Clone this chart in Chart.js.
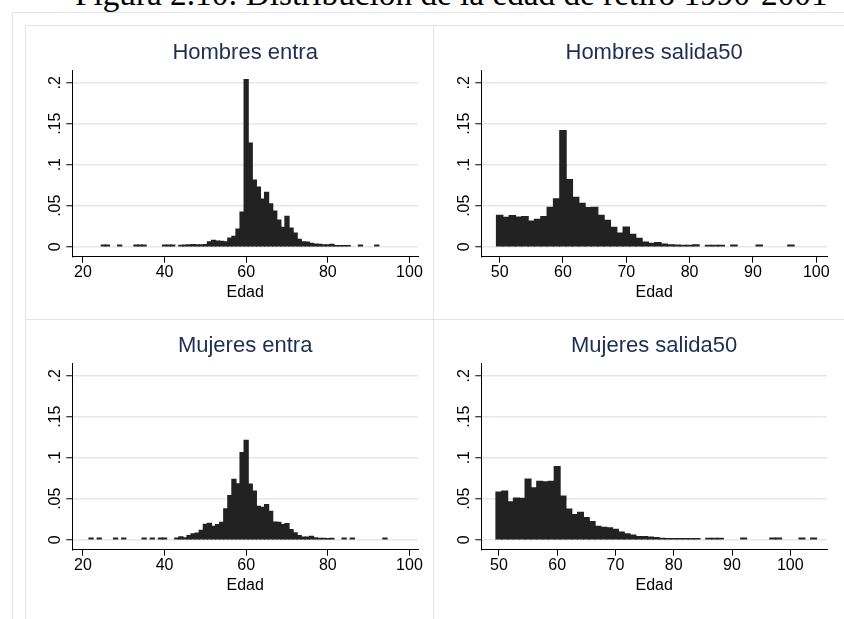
<!DOCTYPE html>
<html><head><meta charset="utf-8">
<script src="https://cdn.jsdelivr.net/npm/chart.js@4.4.1/dist/chart.umd.min.js"></script>
<style>
html,body{margin:0;padding:0;background:#fff;width:844px;height:619px;overflow:hidden;position:relative}
.ln{position:absolute;background:#dfe4ee}
canvas{position:absolute}
#fig{position:absolute;left:75px;top:-18px;white-space:nowrap;font-family:'Liberation Serif',serif;color:#000}
</style></head><body>
<div id="fig">Figura 2.10: Distribución de la edad de retiro 1990-2001</div>
<div class="ln" style="left:12px;top:12px;width:832px;height:1px"></div>
<div class="ln" style="left:12px;top:12px;width:1px;height:607px"></div>
<div class="ln" style="left:25px;top:25px;width:819px;height:1px"></div>
<div class="ln" style="left:25px;top:25px;width:1px;height:594px"></div>
<div class="ln" style="left:433px;top:25px;width:1px;height:594px"></div>
<div class="ln" style="left:25px;top:319px;width:819px;height:1px"></div>
<script>
// ---- data ----
const figTitle = 'Figura 2.10: Distribución de la edad de retiro 1990-2001';
const panelTitles = ['Hombres entra', 'Hombres salida50', 'Mujeres entra', 'Mujeres salida50'];
const xAxisTitle = 'Edad';
const yTicks = [0, 0.05, 0.1, 0.15, 0.2];
const yTickLabels = ['0', '.05', '.1', '.15', '.2'];
const xTicksEntra = [20, 40, 60, 80, 100];
const xTicksSalida = [50, 60, 70, 80, 90, 100];

const hombresEntraEdad = [25,26,27,28,29,30,31,32,33,34,35,36,37,38,39,40,41,42,43,44,45,46,47,48,49,50,51,52,53,54,55,56,57,58,59,60,61,62,63,64,65,66,67,68,69,70,71,72,73,74,75,76,77,78,79,80,81,82,83,84,85,86,87,88,89,90,91,92];
const hombresEntraDens = [0.0018,0.0018,0,0,0.0018,0,0,0,0.0018,0.0018,0.0018,0,0,0,0,0.0018,0.0018,0.0018,0,0.0015,0.0018,0.0022,0.0026,0.0024,0.0022,0.0025,0.006,0.0077,0.0068,0.0066,0.006,0.0106,0.0126,0.0215,0.0423,0.2037,0.1264,0.0813,0.0728,0.0581,0.0662,0.0524,0.0435,0.0325,0.0236,0.037,0.0228,0.0167,0.0089,0.006,0.0055,0.004,0.0033,0.003,0.0024,0.0024,0.0028,0.0014,0.0012,0.0014,0.0012,0,0,0.0018,0,0,0,0.0018];

const hombresSalidaEdad = [50,51,52,53,54,55,56,57,58,59,60,61,62,63,64,65,66,67,68,69,70,71,72,73,74,75,76,77,78,79,80,81,82,83,84,85,86,87,88,89,90,91,92,93,94,95,96];
const hombresSalidaDens = [0.0382,0.0358,0.0378,0.0362,0.0366,0.0313,0.0333,0.0366,0.048,0.0585,0.1415,0.0817,0.0602,0.0528,0.0476,0.048,0.0382,0.0321,0.0236,0.0167,0.024,0.015,0.0102,0.0057,0.0041,0.0049,0.0033,0.0024,0.0018,0.0016,0.0016,0.0024,0,0.0015,0.0015,0.0015,0,0.0018,0,0,0,0.0018,0,0,0,0,0.0018];

const mujeresEntraEdad = [22,23,24,25,26,27,28,29,30,31,32,33,34,35,36,37,38,39,40,41,42,43,44,45,46,47,48,49,50,51,52,53,54,55,56,57,58,59,60,61,62,63,64,65,66,67,68,69,70,71,72,73,74,75,76,77,78,79,80,81,82,83,84,85,86,87,88,89,90,91,92,93,94];
const mujeresEntraDens = [0.0018,0,0.0018,0,0,0,0.0018,0,0.0018,0,0,0,0,0.0018,0,0.0018,0,0.0018,0.002,0,0,0.0018,0.0035,0.0022,0.005,0.007,0.008,0.0114,0.0188,0.02,0.0163,0.0184,0.0212,0.0376,0.0539,0.0735,0.0682,0.1061,0.1212,0.0678,0.0592,0.0408,0.0396,0.0429,0.0347,0.0216,0.0212,0.0184,0.0196,0.0122,0.0082,0.0049,0.0033,0.0033,0.004,0.0024,0.0016,0.0016,0.0014,0.0016,0,0,0.0018,0,0.0018,0,0,0,0,0,0,0,0.0018];

const mujeresSalidaEdad = [50,51,52,53,54,55,56,57,58,59,60,61,62,63,64,65,66,67,68,69,70,71,72,73,74,75,76,77,78,79,80,81,82,83,84,85,86,87,88,89,90,91,92,93,94,95,96,97,98,99,100,101,102,103,104];
const mujeresSalidaDens = [0.0582,0.0594,0.0463,0.0508,0.0504,0.0738,0.0631,0.0713,0.0705,0.0713,0.0893,0.0533,0.0373,0.0307,0.0332,0.027,0.0221,0.0164,0.0152,0.0143,0.0127,0.0094,0.007,0.0057,0.0037,0.0037,0.0033,0.0025,0.0016,0.0014,0.0014,0.0012,0.0012,0.0012,0.0012,0,0.0015,0.0015,0.0015,0,0,0,0.0018,0,0,0,0,0.0018,0.0018,0,0,0,0.0018,0,0.0018];

// ---- page title ----
const fig = document.getElementById('fig');
(function(){
  const c = document.createElement('canvas').getContext('2d');
  c.font = '100px "Liberation Serif"';
  const w = c.measureText(figTitle).width;
  const fs = 100 * 753 / w;
  fig.textContent = figTitle;
  fig.style.fontSize = fs + 'px';
  fig.style.lineHeight = fs + 'px';
  fig.style.top = (4.5 - 0.8375 * fs) + 'px';
})();

const FONT = "'Liberation Sans', Arial, sans-serif";

function makeChart(left, top, title, ages, dens, xmin, xmax, xticks) {
  const cv = document.createElement('canvas');
  cv.width = 406; cv.height = 290;
  cv.style.left = left + 'px'; cv.style.top = top + 'px';
  cv.style.width = '406px'; cv.style.height = '290px';
  document.body.appendChild(cv);
  new Chart(cv, {
    type: 'bar',
    data: { datasets: [{
      data: ages.map((a, i) => ({ x: a, y: dens[i] > 0 ? dens[i] : null })),
      backgroundColor: '#222222', borderWidth: 0, inflateAmount: 0.6,
      barPercentage: 1, categoryPercentage: 1
    }]},
    options: {
      responsive: false, animation: false, devicePixelRatio: 1,
      layout: { padding: { left: 0, right: 14, top: 0, bottom: 0 } },
      plugins: {
        legend: { display: false }, tooltip: { enabled: false },
        title: { display: true, text: title, fullSize: false, color: '#1e2d52',
          font: { family: FONT, size: 22, weight: 'normal' }, padding: { top: 13.8, bottom: 3.8 } }
      },
      scales: {
        x: {
          type: 'linear', min: xmin, max: xmax, offset: false,
          afterBuildTicks: s => { s.ticks = xticks.map(v => ({ value: v })); },
          afterFit: s => { s.height = 59.3; s.paddingLeft = 0; s.paddingRight = 0; },
          grid: { display: true, offset: false, drawOnChartArea: false, drawTicks: true, tickLength: 6, tickColor: '#000', tickWidth: 1 },
          border: { display: true, color: '#000', width: 1 },
          ticks: { color: '#000', font: { family: FONT, size: 16 }, padding: 0.5, autoSkip: false, maxRotation: 0, minRotation: 0,
            callback: (v, i) => String(xticks[i]) },
          title: { display: true, text: xAxisTitle, color: '#000', font: { family: FONT, size: 16 }, padding: { top: 0, bottom: 14.3 } }
        },
        y: {
          type: 'linear', min: -0.0122, max: 0.2155,
          afterBuildTicks: s => { s.ticks = yTicks.map(v => ({ value: v })); },
          afterFit: s => { s.width = 46.3; s.paddingTop = 0; s.paddingBottom = 0; },
          grid: { color: '#e3e7ef', lineWidth: 1.5, drawTicks: true, tickLength: 6, tickColor: '#000', tickWidth: 1 },
          border: { display: true, color: '#000', width: 1 },
          ticks: { color: '#000', font: { family: FONT, size: 16 }, padding: -0.8, minRotation: 90, maxRotation: 90,
            crossAlign: 'center', autoSkip: false, callback: (v, i) => yTickLabels[i] }
        }
      }
    }
  });
}

makeChart(26, 26, panelTitles[0], hombresEntraEdad, hombresEntraDens, 17.4, 102.1, xTicksEntra);
makeChart(435.4, 26, panelTitles[1], hombresSalidaEdad, hombresSalidaDens, 47.1, 101.7, xTicksSalida);
makeChart(26, 319.3, panelTitles[2], mujeresEntraEdad, mujeresEntraDens, 17.4, 102.1, xTicksEntra);
makeChart(435.4, 319.3, panelTitles[3], mujeresSalidaEdad, mujeresSalidaDens, 46.98, 106.3, xTicksSalida);
</script>
</body></html>
